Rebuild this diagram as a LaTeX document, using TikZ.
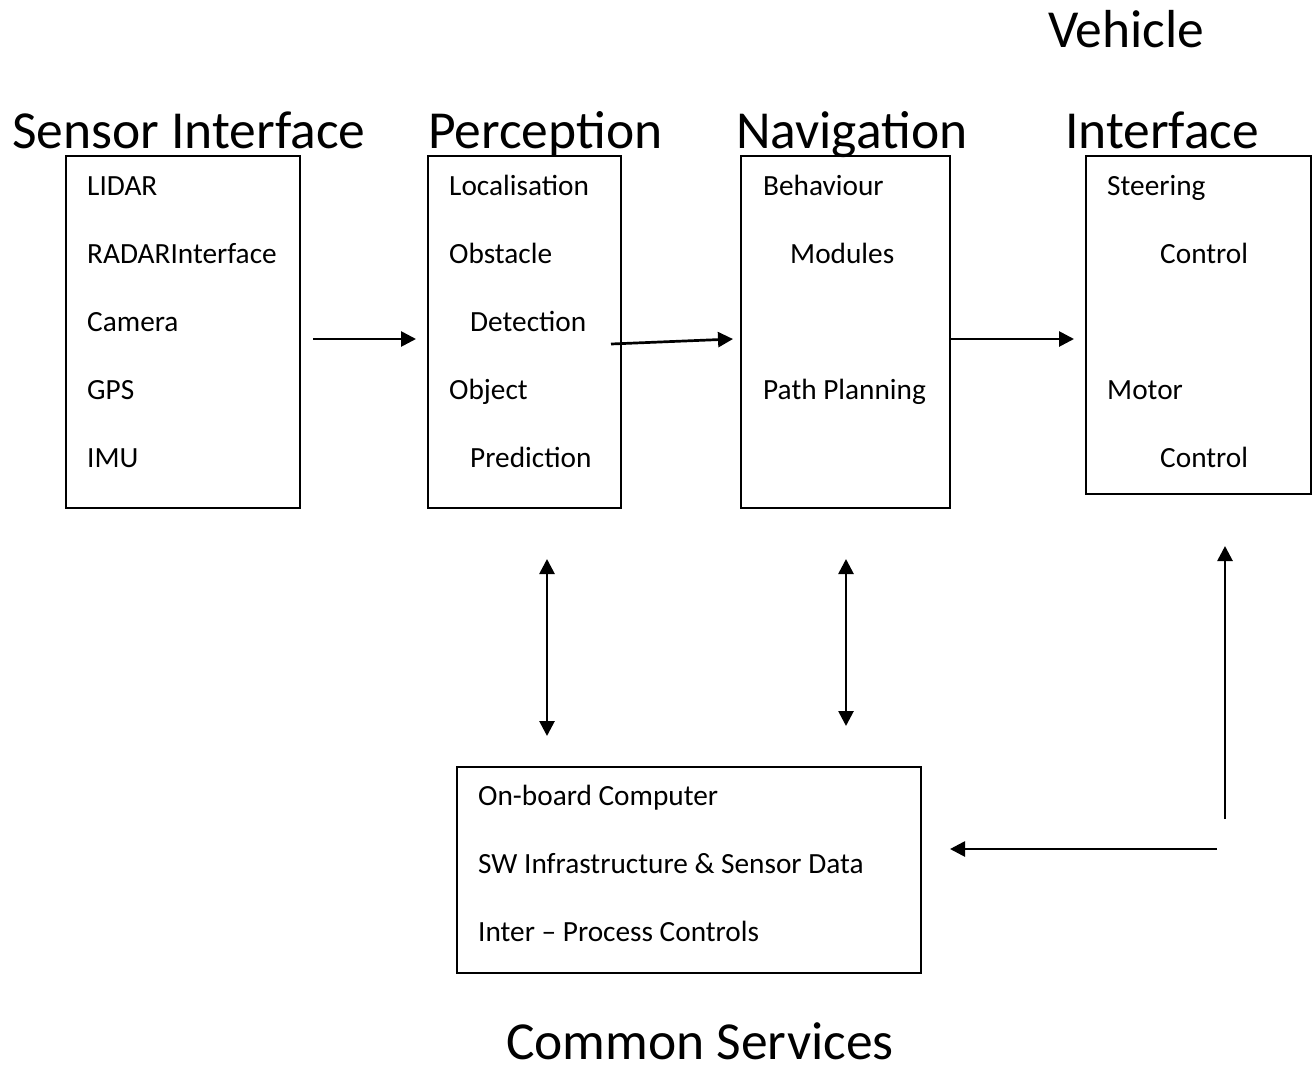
\documentclass[tikz,border=0pt]{standalone}
\usepackage{fontspec}
\setmainfont{Carlito}
\usetikzlibrary{arrows.meta}
\begin{document}
\begin{tikzpicture}[x=1pt,y=-1pt,
  box/.style={draw,line width=1.3pt,inner sep=0pt},
  item/.style={anchor=base west,inner sep=0pt,font=\fontsize{29.3}{34}\selectfont},
  title/.style={anchor=base west,inner sep=0pt,font=\fontsize{53.5}{60}\selectfont},
  arr/.style={line width=2.7pt,-{Triangle[length=15pt,width=15pt]}},
  darr/.style={line width=2.7pt,{Triangle[length=15pt,width=15pt]}-{Triangle[length=15pt,width=15pt]}}]
\useasboundingbox (0,0) rectangle (1313,1065);
% boxes
\node[box,minimum width=234pt,minimum height=352pt] (sensor) at (183,332) {};
\node[box,minimum width=193pt,minimum height=352pt] (perc) at (524.5,332) {};
\node[box,minimum width=209pt,minimum height=352pt] (nav) at (845.5,332) {};
\node[box,minimum width=225pt,minimum height=338pt] (veh) at (1198.5,325) {};
\node[box,minimum width=464pt,minimum height=206pt] (common) at (689,870) {};
% titles
\node[title] (t1) at (12,148) {Sensor Interface};
\node[title] (t2) at (428,148) {Perception};
\node[title] (t3) at (736,148) {Navigation};
\node[title] (t4a) at (1048,48) {Vehicle};
\node[title] (t4b) at (1065,148) {Interface};
\node[title,anchor=base,text depth=0pt] (t5) at (700,1059) {Common Services};
% sensor items
\node[item] (s1) at (87,195) {LIDAR};
\node[item] (s2) at (87,263) {RADARInterface};
\node[item] (s3) at (87,331) {Camera};
\node[item] (s4) at (87,399) {GPS};
\node[item] (s5) at (87,467) {IMU};
% perception items
\node[item] (p1) at (449,195) {Localisation};
\node[item] (p2) at (449,263) {Obstacle};
\node[item] (p3) at (470,331) {Detection};
\node[item] (p4) at (449,399) {Object};
\node[item] (p5) at (470,467) {Prediction};
% navigation items
\node[item] (n1) at (763,195) {Behaviour};
\node[item] (n2) at (790,263) {Modules};
\node[item] (n3) at (763,399) {Path Planning};
% vehicle items
\node[item] (v1) at (1107,195) {Steering};
\node[item] (v2) at (1160,263) {Control};
\node[item] (v3) at (1107,399) {Motor};
\node[item] (v4) at (1160,467) {Control};
% common items
\node[item] (c1) at (478,805) {On-board Computer};
\node[item] (c2) at (478,873) {SW Infrastructure \& Sensor Data};
\node[item] (c3) at (478,941) {Inter – Process Controls};
% arrow end points
\coordinate (a1s) at (313,339); \coordinate (a1e) at (416,339);
\coordinate (a2s) at (611,344); \coordinate (a2e) at (733,339);
\coordinate (a3s) at (950,339); \coordinate (a3e) at (1074,339);
\coordinate (a4s) at (547,559); \coordinate (a4e) at (547,736);
\coordinate (a5s) at (846,559); \coordinate (a5e) at (846,726);
\coordinate (a6s) at (1225,819); \coordinate (a6e) at (1225,546);
\coordinate (a7s) at (1217,849); \coordinate (a7e) at (950,849);
\draw[arr] (a1s) -- (a1e);
\draw[arr] (a2s) -- (a2e);
\draw[arr] (a3s) -- (a3e);
\draw[darr] (a4s) -- (a4e);
\draw[darr] (a5s) -- (a5e);
\draw[arr] (a6s) -- (a6e);
\draw[arr] (a7s) -- (a7e);
\end{tikzpicture}
\end{document}
